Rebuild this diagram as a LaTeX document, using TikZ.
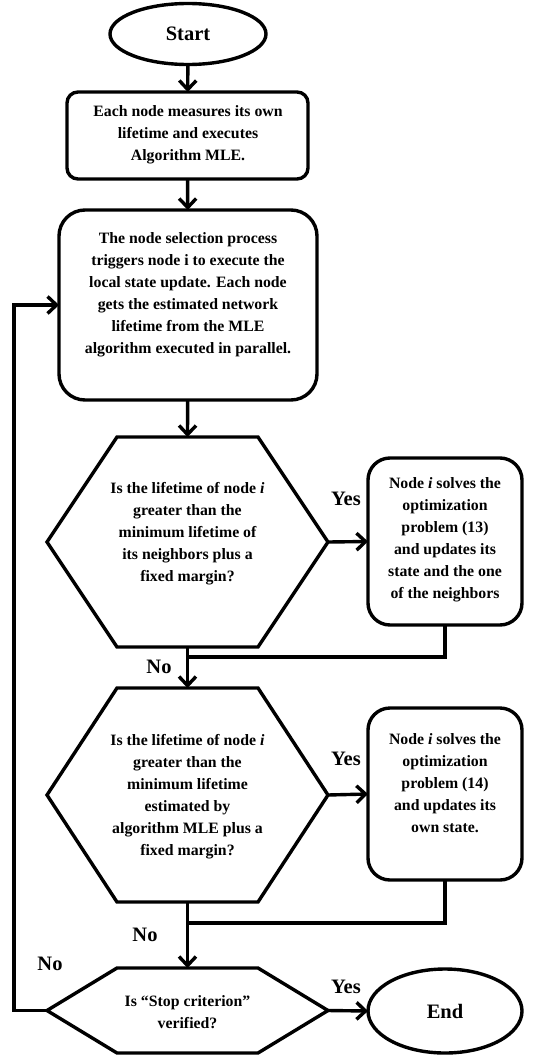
\documentclass[tikz,border=0pt]{standalone}
\usepackage{fontspec}
\setmainfont{Liberation Serif}
\usetikzlibrary{arrows.meta,shapes.geometric}
\begin{document}
\begin{tikzpicture}[x=1pt,y=-1pt,
  every node/.style={inner sep=0pt,outer sep=0pt},
  shp/.style={draw,line width=3.4pt},
  txt/.style={align=center,font=\fontsize{15.8}{22}\selectfont\bfseries},
  big/.style={font=\fontsize{20.5}{24}\selectfont\bfseries},
  lab/.style={font=\fontsize{20.5}{24}\selectfont\bfseries},
  ln/.style={line width=3.4pt},
  arr/.style={line width=3.4pt,-{Straight Barb[length=9pt,width=17pt,line width=3.4pt]}},
  ghost/.style={rectangle,draw=none}
]
\useasboundingbox (0,0) rectangle (540,1057);
% Start
\node[shp,ellipse,minimum width=156pt,minimum height=61pt] (start) at (188,34) {};
\node[big] (tstart) at (start.center) {Start};
% Box1
\node[shp,rectangle,rounded corners=11pt,minimum width=241pt,minimum height=87pt] (b1) at (187.5,135.5) {};
\node[txt] (tb1) at (188,135) {Each node measures its own\\lifetime and executes\\Algorithm MLE.};
% Box2
\node[shp,rectangle,rounded corners=26pt,minimum width=258pt,minimum height=190pt] (b2) at (188,305) {};
\node[txt] (tb2) at (188,295) {The node selection process\\triggers node i to execute the\\local state update. Each node\\gets the estimated network\\lifetime from the MLE\\algorithm executed in parallel.};
% Hex1
\node[ghost,minimum width=281pt,minimum height=210pt] (h1) at (187.5,542) {};
\draw[shp,line join=miter] (h1.west) -- ([xshift=70pt]h1.north west) -- ([xshift=-70pt]h1.north east) -- (h1.east) -- ([xshift=-70pt]h1.south east) -- ([xshift=70pt]h1.south west) -- cycle;
\node[txt] (th1) at (187.5,534) {Is the lifetime of node \textit{i}\\greater than the\\minimum lifetime of\\its neighbors plus a\\fixed margin?};
% Right box 1
\node[shp,rectangle,rounded corners=22pt,minimum width=154pt,minimum height=167pt] (r1) at (445,541.5) {};
\node[txt] (tr1) at (445,540) {Node \textit{i} solves the\\optimization\\problem (13)\\and updates its\\state and the one\\of the neighbors};
% Hex2
\node[ghost,minimum width=281pt,minimum height=214pt] (h2) at (187.5,795) {};
\draw[shp,line join=miter] (h2.west) -- ([xshift=70pt]h2.north west) -- ([xshift=-70pt]h2.north east) -- (h2.east) -- ([xshift=-70pt]h2.south east) -- ([xshift=70pt]h2.south west) -- cycle;
\node[txt] (th2) at (187.5,797) {Is the lifetime of node \textit{i}\\greater than the\\minimum lifetime\\estimated by\\algorithm MLE plus a\\fixed margin?};
% Right box 2
\node[shp,rectangle,rounded corners=22pt,minimum width=154pt,minimum height=172pt] (r2) at (445,794) {};
\node[txt] (tr2) at (445,783) {Node \textit{i} solves the\\optimization\\problem (14)\\and updates its\\own state.};
% Hex3
\node[ghost,minimum width=281pt,minimum height=85pt] (h3) at (187.5,1010.5) {};
\draw[shp,line join=miter] (h3.west) -- ([xshift=70pt]h3.north west) -- ([xshift=-70pt]h3.north east) -- (h3.east) -- ([xshift=-70pt]h3.south east) -- ([xshift=70pt]h3.south west) -- cycle;
\node[txt] (th3) at (187.5,1012) {Is “Stop criterion”\\verified?};
% End
\node[shp,ellipse,minimum width=154pt,minimum height=84pt] (end) at (445,1011) {};
\node[big] (tend) at (end.center) {End};
% coordinates
\coordinate (m1) at (188,657);
\coordinate (m2) at (188,923);
\coordinate (fb) at (14,1010.5);
% connectors
\draw[arr] (start) -- (b1);
\draw[arr] (b1) -- (b2);
\draw[arr] (b2) -- (h1.north);
\draw[arr] (h1.east) -- (r1.west);
\draw[arr] (h1.south) -- (h2.north);
\draw[ln] (r1.south) |- (m1);
\draw[arr] (h2.east) -- (r2.west);
\draw[arr] (h2.south) -- (h3.north);
\draw[ln] (r2.south) |- (m2);
\draw[arr] (h3.east) -- (end.west);
\draw[arr] (h3.west) -- (fb) |- (b2.west);
% labels
\node[lab] (y1) at (346,499) {Yes};
\node[lab] (y2) at (346,759) {Yes};
\node[lab] (y3) at (346,987) {Yes};
\node[lab] (n1) at (159,667) {No};
\node[lab] (n2) at (145,935) {No};
\node[lab] (n3) at (50,964) {No};
\end{tikzpicture}
\end{document}
